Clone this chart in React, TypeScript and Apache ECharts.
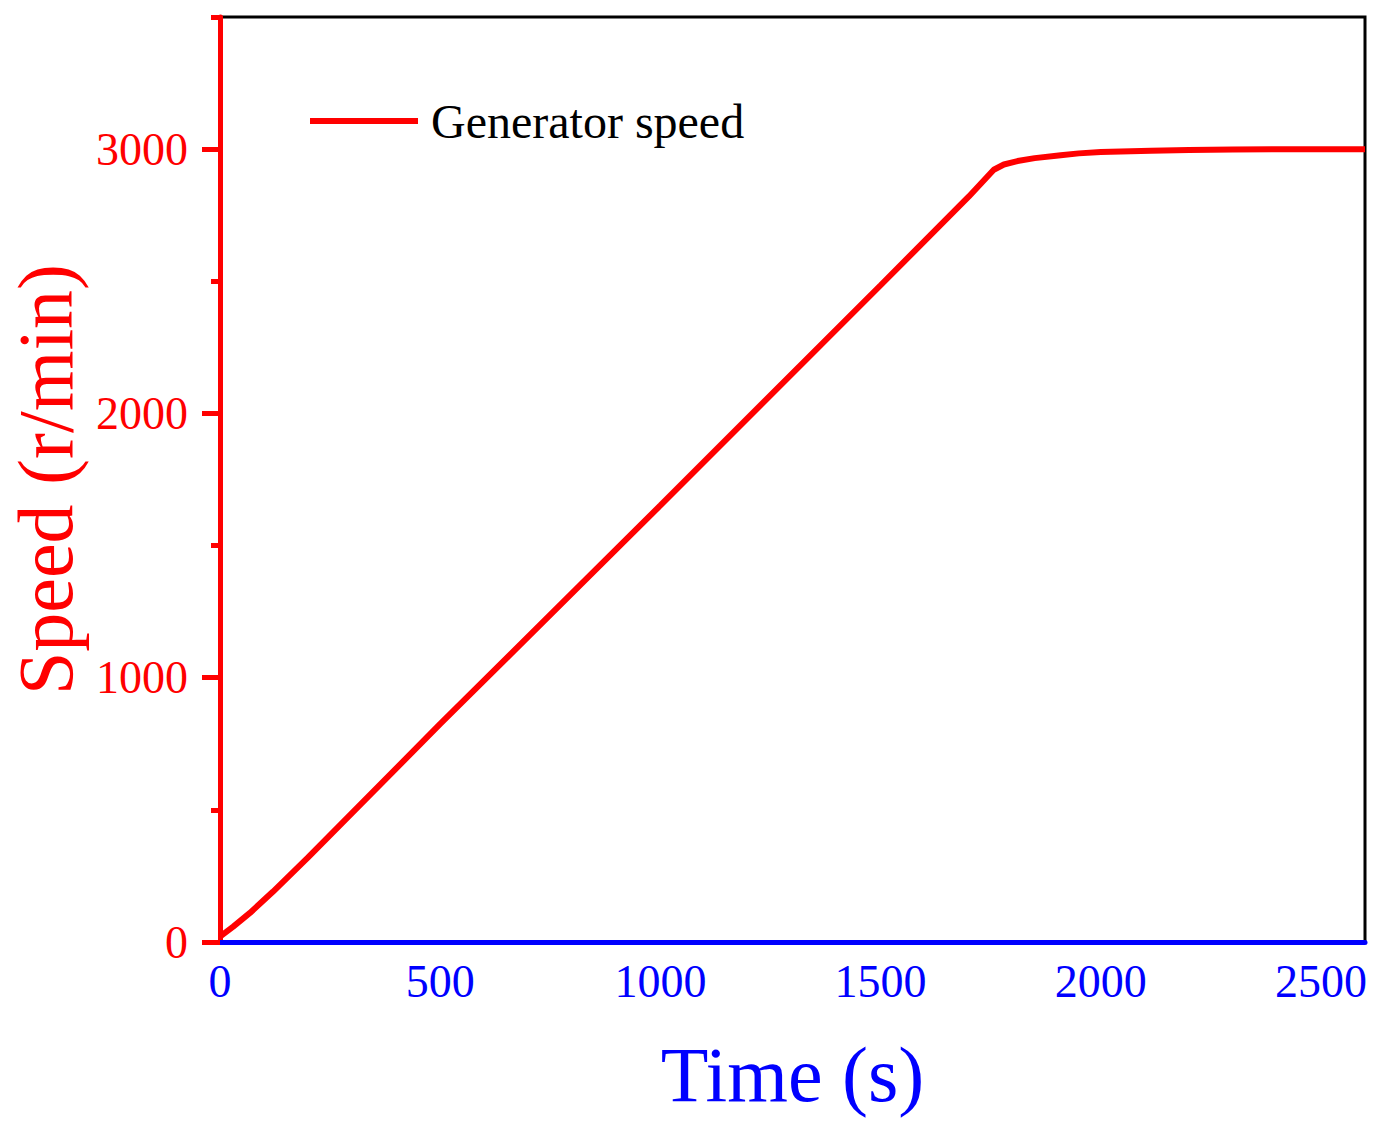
import React, { useEffect, useRef } from "react";
import * as echarts from "echarts";

const timeValues = [0, 30, 68, 120, 200, 500, 1000, 1500, 1700, 1757, 1780, 1811, 1850, 1909, 1950, 2000, 2114, 2200, 2300, 2400, 2600];
const speedValues = [20, 58, 110, 190, 320, 825, 1652, 2485, 2820, 2922, 2942, 2955, 2966, 2977, 2984, 2989, 2994, 2997, 2999, 3000, 3000];
const majorY = [0, 1000, 2000, 3000];
const minorY = [500, 1500, 2500, 3500];
const seriesName = "Generator speed";
const xName = "Time (s)";
const yName = "Speed (r/min)";

const FONT = "'Liberation Serif', 'Times New Roman', serif";
const RED = "#ff0000";
const BLUE = "#0000ff";

export default function App() {
  const ref = useRef<HTMLDivElement>(null);
  useEffect(() => {
    if (!ref.current) return;
    const chart = echarts.init(ref.current, undefined, { renderer: "svg" });
    const data = timeValues.map((t, i) => [t, speedValues[i]]);
    chart.setOption({
      animation: false,
      backgroundColor: "#fff",
      grid: {
        left: 220,
        right: 21,
        top: 17,
        bottom: 188,
        containLabel: false,
        outerBoundsMode: "none",
        show: true,
        borderColor: "#000",
        borderWidth: 3,
        backgroundColor: "transparent",
      },
      legend: {
        show: true,
        left: 310,
        top: 97,
        padding: 0,
        itemWidth: 108,
        itemHeight: 6,
        icon: "rect",
        textStyle: { fontFamily: FONT, fontSize: 48, color: "#000", padding: [0, 0, 0, 8] },
        data: [seriesName],
      },
      xAxis: {
        type: "value",
        min: 0,
        max: 2600,
        interval: 500,
        name: xName,
        nameLocation: "middle",
        nameGap: 93,
        nameTextStyle: { fontFamily: FONT, fontSize: 78, color: BLUE },
        axisLine: { show: true, onZero: false, lineStyle: { color: BLUE, width: 5 } },
        axisTick: { show: false },
        axisLabel: {
          fontFamily: FONT,
          fontSize: 46,
          color: BLUE,
          margin: 16,
          showMaxLabel: false,
          formatter: (v: number) => String(v),
        },
        splitLine: { show: false },
      },
      yAxis: [
        {
          type: "value",
          min: 0,
          max: 3500,
          interval: 500,
          position: "left",
          name: yName,
          nameLocation: "middle",
          nameGap: 136,
          nameTextStyle: { fontFamily: FONT, fontSize: 78, color: RED },
          axisLine: { show: true, onZero: false, lineStyle: { color: RED, width: 5 } },
          axisTick: { show: true, inside: false, length: 9, customValues: minorY, lineStyle: { color: RED, width: 5 } },
          axisLabel: {
            fontFamily: FONT,
            fontSize: 46,
            color: RED,
            margin: 32,
            customValues: majorY,
            formatter: (v: number) => String(v),
          },
          splitLine: { show: false },
        },
        {
          type: "value",
          min: 0,
          max: 3500,
          interval: 500,
          position: "left",
          axisLine: { show: false },
          axisTick: { show: true, inside: false, length: 18, customValues: majorY, lineStyle: { color: RED, width: 5 } },
          axisLabel: { show: false },
          splitLine: { show: false },
        },
      ],
      series: [
        {
          name: seriesName,
          type: "line",
          data,
          symbol: "none",
          smooth: false,
          lineStyle: { color: RED, width: 6 },
          itemStyle: { color: RED },
          z: 1,
        },
      ],
    });
    return () => chart.dispose();
  }, []);
  return (
    <div
      ref={ref}
      style={{ position: "fixed", left: 0, top: 0, width: 1386, height: 1130, background: "#fff" }}
    />
  );
}
